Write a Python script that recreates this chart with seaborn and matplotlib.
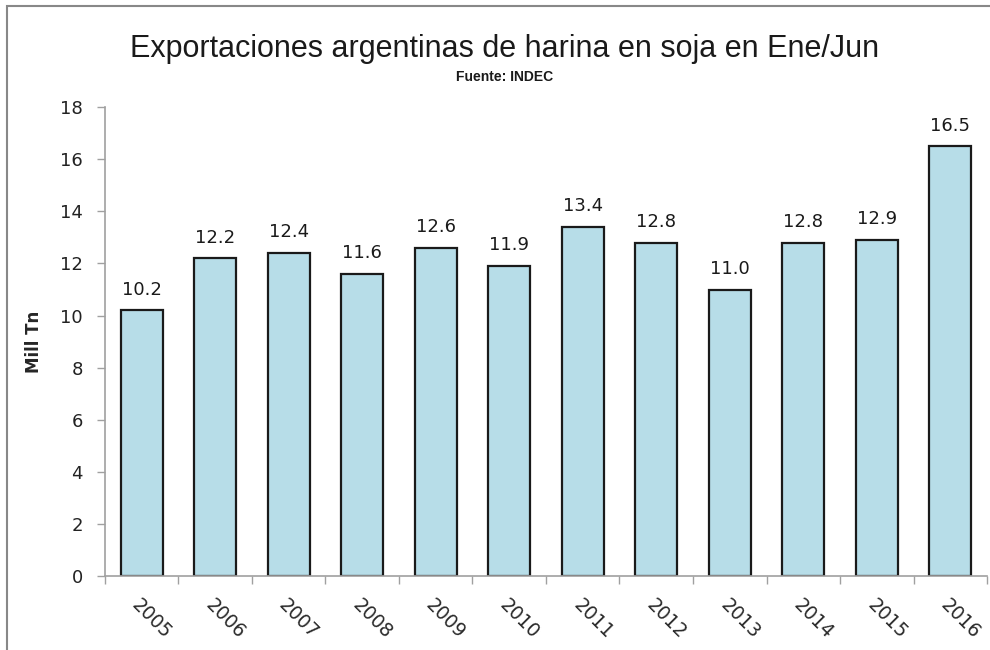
import seaborn as sns
import matplotlib.pyplot as plt
import matplotlib.font_manager as fm
from matplotlib.patches import Rectangle
import pandas as pd

# datos
anios = ["2005", "2006", "2007", "2008", "2009", "2010",
         "2011", "2012", "2013", "2014", "2015", "2016"]
valores = [10.2, 12.2, 12.4, 11.6, 12.6, 11.9, 13.4, 12.8, 11.0, 12.8, 12.9, 16.5]
yticks = [0, 2, 4, 6, 8, 10, 12, 14, 16, 18]

sns.set_style("white")
plt.rcParams['font.family'] = ['DejaVu Sans']

nombres = {f.name for f in fm.fontManager.ttflist}
narrow = "Liberation Sans Narrow" if "Liberation Sans Narrow" in nombres else "Liberation Sans"

df = pd.DataFrame({"anio": anios, "valor": valores})

fig = plt.figure(figsize=(9.9, 6.5), dpi=100)
ax = fig.add_axes([0.106, 0.114, 0.891, 0.721])

sns.barplot(data=df, x="anio", y="valor", color="#b7dde8", saturation=1,
            edgecolor="#1a1a1a", linewidth=1.6, width=0.57, ax=ax)

for p, v in zip(ax.patches, valores):
    ax.text(p.get_x() + p.get_width() / 2, v + 0.45, f"{v:.1f}",
            ha="center", va="bottom", fontsize=13, color="#1a1a1a")

ax.set_xlim(-0.5, len(anios) - 0.5)
ax.set_ylim(0, 18)
ax.set_yticks(yticks)
ax.set_xlabel("")
ax.set_ylabel("Mill Tn", fontsize=12, fontweight="bold", labelpad=12)

# ticks del eje x entre categorias (estilo Excel)
ax.set_xticks(range(len(anios)))
ax.set_xticks([i - 0.5 for i in range(len(anios) + 1)], minor=True)
ax.tick_params(axis="x", which="major", length=0, pad=14, bottom=True)
ax.tick_params(axis="x", which="minor", length=6, color="#a0a0a0", width=1,
               bottom=True)
ax.tick_params(axis="y", length=6, color="#a0a0a0", width=1, labelsize=13,
               labelcolor="#222222", pad=10, left=True)
ax.set_xticklabels(anios, rotation=-45, ha="left", rotation_mode="anchor",
                   fontsize=13.5, color="#2a2a2a")

sns.despine(ax=ax)
for s in ["left", "bottom"]:
    ax.spines[s].set_color("#a0a0a0")
    ax.spines[s].set_linewidth(1.2)

fig.text(0.51, 0.925, "Exportaciones argentinas de harina en soja en Ene/Jun",
         ha="center", va="center", fontsize=22, family=narrow, color="#1a1a1a")
fig.text(0.51, 0.882, "Fuente: INDEC", ha="center", va="center",
         fontsize=10, fontweight="bold", family=narrow, color="#1a1a1a")

# marco del grafico
fig.patches.append(Rectangle((7 / 990, -0.05), 1.1, 1 - 6 / 650 + 0.05,
                             transform=fig.transFigure, fill=False,
                             edgecolor="#888888", linewidth=1.5))

fig.savefig("out.png", dpi=100)
